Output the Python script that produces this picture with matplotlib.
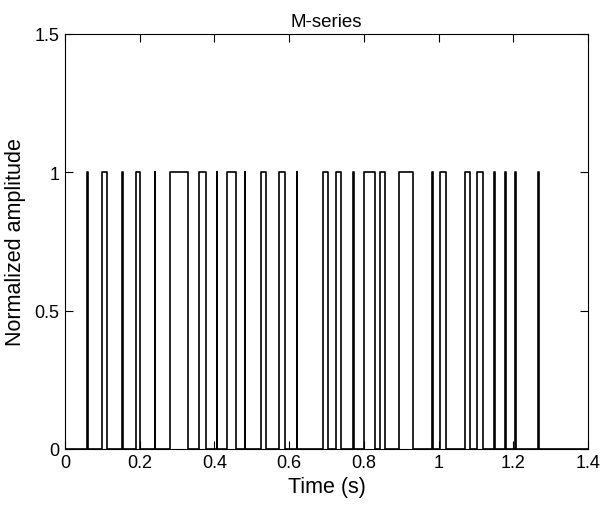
import numpy as np
import matplotlib
matplotlib.use("Agg")
import matplotlib.pyplot as plt

# pulse edges (seconds)
pulse_start = [0.060, 0.099, 0.152, 0.190, 0.240, 0.281, 0.359, 0.406, 0.434, 0.481,
               0.525, 0.573, 0.620, 0.690, 0.725, 0.771, 0.800, 0.843, 0.894, 0.982,
               1.003, 1.071, 1.102, 1.149, 1.178, 1.205, 1.266]
pulse_end = [0.062, 0.112, 0.154, 0.201, 0.242, 0.329, 0.377, 0.408, 0.458, 0.483,
             0.538, 0.589, 0.622, 0.703, 0.738, 0.773, 0.830, 0.856, 0.932, 0.984,
             1.019, 1.085, 1.119, 1.151, 1.180, 1.207, 1.268]

x_ticks = [0, 0.2, 0.4, 0.6, 0.8, 1.0, 1.2, 1.4]
x_tick_labels = ["0", "0.2", "0.4", "0.6", "0.8", "1", "1.2", "1.4"]
y_ticks = [0, 0.5, 1, 1.5]
y_tick_labels = ["0", "0.5", "1", "1.5"]

plt.rcParams['font.family'] = ['Liberation Sans', 'DejaVu Sans']

# build the rectangular waveform from the pulse edges
t = [0.0]
y = [0.0]
for s, e in zip(pulse_start, pulse_end):
    t += [s, s, e, e]
    y += [0, 1, 1, 0]
t.append(1.4)
y.append(0)

fig = plt.figure(figsize=(6.02, 5.06), dpi=100)
ax = fig.add_axes([0.108, 0.111, 0.869, 0.820])
ax.plot(t, y, color='black', linewidth=1.2)

ax.set_xlim(0, 1.4)
ax.set_ylim(0, 1.5)
ax.set_xticks(x_ticks)
ax.set_xticklabels(x_tick_labels)
ax.set_yticks(y_ticks)
ax.set_yticklabels(y_tick_labels)
ax.tick_params(direction='in', length=6, labelsize=13, top=True, right=True, width=0.8, pad=4)
for sp in ax.spines.values():
    sp.set_linewidth(0.8)

ax.set_title("M-series", fontsize=13.5, pad=6)
ax.set_xlabel("Time (s)", fontsize=15.5, labelpad=3)
ax.set_ylabel("Normalized amplitude", fontsize=15.5, labelpad=6)

fig.savefig("out.png", dpi=100)
